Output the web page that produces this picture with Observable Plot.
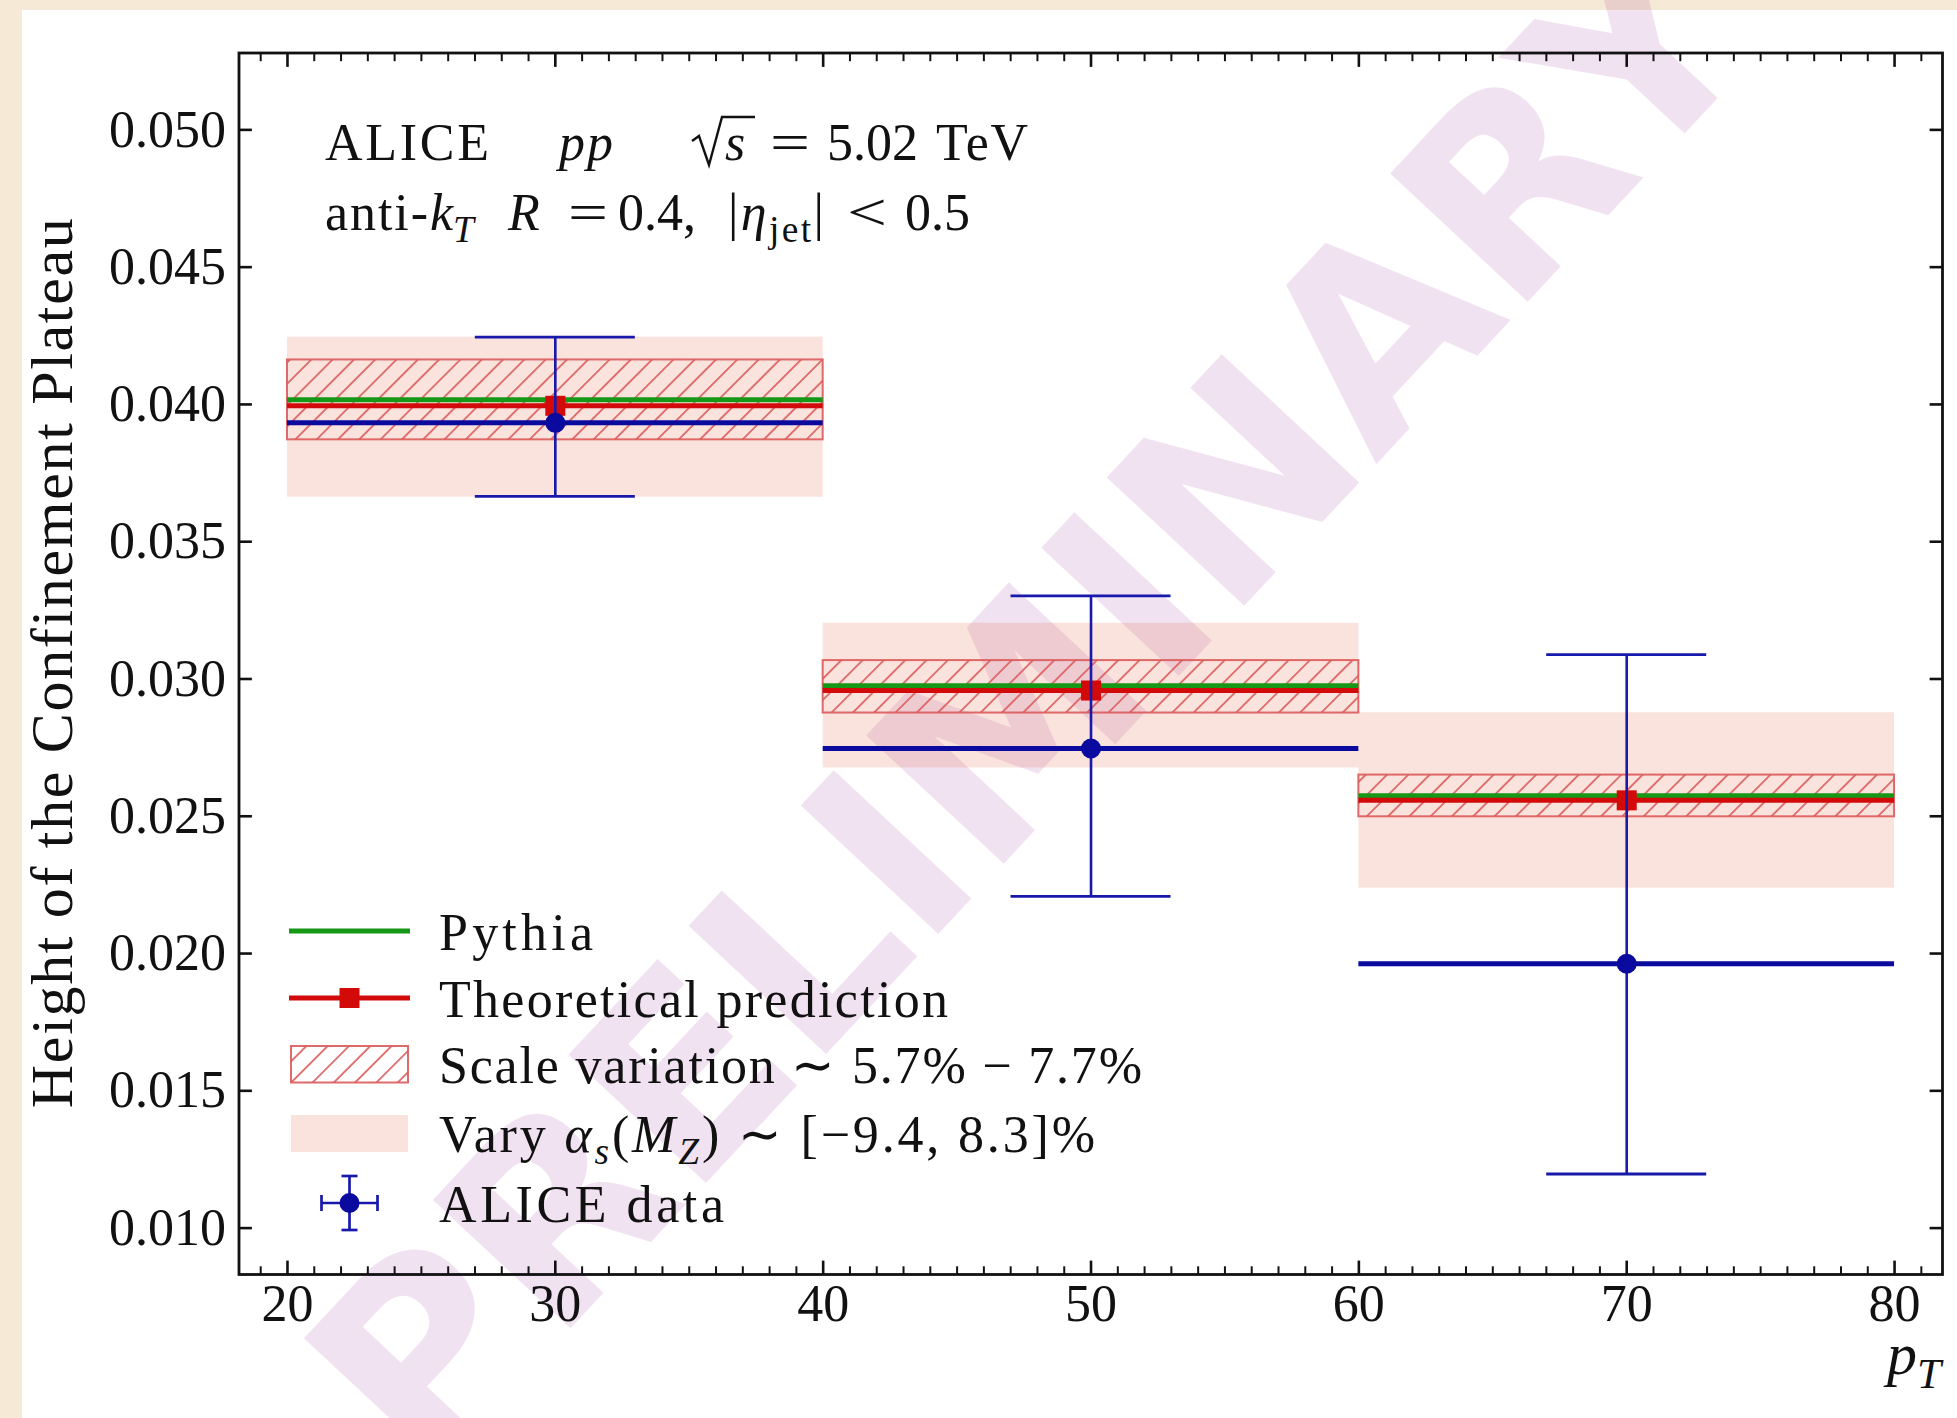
<!DOCTYPE html>
<html>
<head>
<meta charset="utf-8">
<script src="https://cdn.jsdelivr.net/npm/d3@7"></script>
<script src="https://cdn.jsdelivr.net/npm/@observablehq/plot@0.6"></script>
<style>
  html, body { margin:0; padding:0; width:1957px; height:1418px; overflow:hidden; background:#f6ead6; }
  #card { position:absolute; left:22px; top:10px; width:1935px; height:1408px; background:#ffffff; }
  #chart { position:absolute; left:0; top:0; width:1957px; height:1418px; }
  #chart svg { display:block; }
</style>
</head>
<body>
<div id="card"></div>
<div id="chart"></div>
<script>
// ---- data ----
const binLo     = [20, 40, 60];
const binHi     = [40, 60, 80];
const binCenter = [30, 50, 70];
const pythia    = [0.04017, 0.02975, 0.02575];
const theory    = [0.03995, 0.02958, 0.02558];
const scaleLo   = [0.03871, 0.02876, 0.02498];
const scaleHi   = [0.04162, 0.03067, 0.02650];
const alphaLo   = [0.03662, 0.02676, 0.02238];
const alphaHi   = [0.04245, 0.03203, 0.02877];
const alice     = [0.03933, 0.02747, 0.01963];
const aliceLo   = [0.03665, 0.02208, 0.01197];
const aliceHi   = [0.04245, 0.03303, 0.03089];
const xTicks    = [20, 30, 40, 50, 60, 70, 80];
const xMinor    = d3.range(19, 82).filter(v => v % 10 !== 0);
const yTicks    = [0.010, 0.015, 0.020, 0.025, 0.030, 0.035, 0.040, 0.045, 0.050];
const xDomain   = [18.19, 81.79];
const yDomain   = [0.00831, 0.0528];

const bins = binCenter.map((c, i) => ({
  lo: binLo[i], hi: binHi[i], c,
  pythia: pythia[i], theory: theory[i],
  sLo: scaleLo[i], sHi: scaleHi[i],
  aLo: alphaLo[i], aHi: alphaHi[i],
  d: alice[i], dLo: aliceLo[i], dHi: aliceHi[i]
}));

// ---- styles ----
const FONT = "'Liberation Serif', 'Times New Roman', serif";
const INK = "#111111";
const GREEN = "#169816", RED = "#d20a0a", BLUE = "#0a0a9e", ERR = "#1818aa";
const BAND = "rgb(230,110,85)", BANDOP = 0.2, HATCH = "#dc5a5a";

const chart = Plot.plot({
  width: 1957, height: 1418,
  marginLeft: 238.5, marginRight: 15, marginTop: 52.5, marginBottom: 144,
  style: {background: "transparent", fontFamily: FONT, fontSize: "52px", color: INK, overflow: "visible"},
  x: {domain: xDomain},
  y: {domain: yDomain},
  marks: [
    Plot.rect(bins, {x1: "lo", x2: "hi", y1: "aLo", y2: "aHi", fill: BAND, fillOpacity: BANDOP}),
    Plot.rect(bins, {x1: "lo", x2: "hi", y1: "sLo", y2: "sHi", fill: "url(#hatch)", stroke: HATCH, strokeWidth: 2, strokeOpacity: 0.9}),
    Plot.ruleY(bins, {x1: "lo", x2: "hi", y: "pythia", stroke: GREEN, strokeWidth: 5}),
    Plot.ruleY(bins, {x1: "lo", x2: "hi", y: "theory", stroke: RED, strokeWidth: 5}),
    Plot.dot(bins, {x: "c", y: "theory", symbol: "square", r: 11.3, fill: RED, stroke: null}),
    Plot.ruleX(bins, {x: "c", y1: "dLo", y2: "dHi", stroke: ERR, strokeWidth: 2.6}),
    Plot.ruleY(bins, {x1: "c", x2: "c", y: "dLo", insetLeft: -80, insetRight: -80, stroke: ERR, strokeWidth: 2.8}),
    Plot.ruleY(bins, {x1: "c", x2: "c", y: "dHi", insetLeft: -80, insetRight: -80, stroke: ERR, strokeWidth: 2.8}),
    Plot.ruleY(bins, {x1: "lo", x2: "hi", y: "d", stroke: BLUE, strokeWidth: 5}),
    Plot.dot(bins, {x: "c", y: "d", r: 10, fill: BLUE, stroke: null}),
    Plot.axisX(xMinor, {anchor: "bottom", tickSize: -7.7, strokeWidth: 2, tickFormat: () => "", label: null}),
    Plot.axisX(xMinor, {anchor: "top", tickSize: -7.7, strokeWidth: 2, tickFormat: () => "", label: null}),
    Plot.axisX(xTicks, {anchor: "bottom", tickSize: -13.4, tickPadding: 23.2, strokeWidth: 2.6, fontSize: 52, tickFormat: d => String(d), label: null}),
    Plot.axisX(xTicks, {anchor: "top", tickSize: -13.4, strokeWidth: 2.6, tickFormat: () => "", label: null}),
    Plot.axisY(yTicks, {anchor: "left", tickSize: -13.4, tickPadding: 26.5, strokeWidth: 2.6, fontSize: 52, tickFormat: d3.format(".3f"), label: null}),
    Plot.axisY(yTicks, {anchor: "right", tickSize: -13.4, strokeWidth: 2.6, tickFormat: () => "", label: null}),
    Plot.frame({stroke: INK, strokeWidth: 2.8})
  ]
});
document.getElementById("chart").appendChild(chart);

const S = d3.select(chart);

// hatch pattern
const defs = S.insert("defs", ":first-child");
const pat = defs.append("pattern").attr("id", "hatch")
  .attr("patternUnits", "userSpaceOnUse").attr("width", 15.06).attr("height", 15.06)
  .attr("patternTransform", "rotate(45)");
pat.append("line").attr("x1", 7.53).attr("x2", 7.53).attr("y1", -2).attr("y2", 17.06)
  .attr("stroke", HATCH).attr("stroke-width", 1.8).attr("stroke-opacity", 0.9);

// watermark behind the marks
S.insert("text", "g")
  .attr("transform", "translate(1030,705) rotate(-47)")
  .attr("text-anchor", "middle").attr("dominant-baseline", "central")
  .attr("font-family", "'DejaVu Sans', sans-serif").attr("font-weight", "bold").attr("font-size", 258)
  .attr("fill", "#800080").attr("fill-opacity", 0.115)
  .text("PRELIMINARY");

// rich text helper
function rich(parent, x, y, size, parts, len, anchor, adjust) {
  const t = parent.append("text").attr("x", x).attr("y", y)
    .attr("font-family", FONT).attr("font-size", size).attr("fill", INK)
    .attr("text-anchor", anchor || "start")
    .style("white-space", "pre");
  if (len) t.attr("textLength", len).attr("lengthAdjust", adjust || "spacing");
  let shift = 0;
  for (const p of parts) {
    const target = p.sub ? size * 0.24 : 0;
    const ts = t.append("tspan").text(p.t);
    if (target !== shift) ts.attr("dy", target - shift);
    shift = target;
    if (p.i) ts.attr("font-style", "italic");
    if (p.sub) ts.attr("font-size", size * 0.72);
  }
  return t;
}

const G = S.append("g");

// annotation line 1
rich(G, 325, 160, 52, [{t: "ALICE"}], 164);
rich(G, 559, 160, 52, [{t: "pp", i: true}], 54);
G.append("path").attr("d", "M692,141 L699,136 L709,165 L722,117 L755,117")
  .attr("fill", "none").attr("stroke", INK).attr("stroke-width", 2.4).attr("stroke-linejoin", "miter");
rich(G, 725, 160, 52, [{t: "s", i: true}]);
rich(G, 770, 160, 52, [{t: "="}], 40, null, "spacingAndGlyphs");
rich(G, 827, 160, 52, [{t: "5.02"}]);
rich(G, 936, 160, 52, [{t: "TeV"}], 92);
// annotation line 2
rich(G, 325, 230, 52, [{t: "anti-"}], 103);
rich(G, 430, 230, 52, [{t: "k", i: true}, {t: "T", i: true, sub: true}]);
rich(G, 508, 230, 52, [{t: "R", i: true}]);
rich(G, 568, 230, 52, [{t: "="}], 40, null, "spacingAndGlyphs");
rich(G, 618, 230, 52, [{t: "0.4,"}]);
rich(G, 728, 230, 52, [{t: "|"}, {t: "η", i: true}, {t: "jet", sub: true}, {t: "|"}], 96);
rich(G, 847, 230, 52, [{t: "<"}], 40, null, "spacingAndGlyphs");
rich(G, 905, 230, 52, [{t: "0.5"}]);

// axis titles
rich(G.append("g").attr("transform", "translate(72,663.2) rotate(-90)"), 0, 0, 60,
  [{t: "Height of the Confinement Plateau"}], 890, "middle");
rich(G, 1941, 1374, 60, [{t: "p", i: true}, {t: "T", i: true, sub: true}], null, "end");

// legend
const L = S.append("g");
L.append("line").attr("x1", 289).attr("x2", 410).attr("y1", 931).attr("y2", 931).attr("stroke", GREEN).attr("stroke-width", 5);
rich(L, 439, 950, 52, [{t: "Pythia"}], 154);

L.append("line").attr("x1", 289).attr("x2", 410).attr("y1", 998).attr("y2", 998).attr("stroke", RED).attr("stroke-width", 5);
L.append("rect").attr("x", 339.5).attr("y", 988).attr("width", 20).attr("height", 20).attr("fill", RED);
rich(L, 439, 1017, 52, [{t: "Theoretical prediction"}], 509);

L.append("rect").attr("x", 291).attr("y", 1046).attr("width", 117).attr("height", 36.5)
  .attr("fill", "url(#hatch)").attr("stroke", HATCH).attr("stroke-width", 2).attr("stroke-opacity", 0.9);
rich(L, 439, 1083, 52, [{t: "Scale variation ∼ 5.7% − 7.7%"}], 703);

L.append("rect").attr("x", 291).attr("y", 1115).attr("width", 117).attr("height", 37)
  .attr("fill", BAND).attr("fill-opacity", BANDOP);
rich(L, 439, 1152, 52, [{t: "Vary "}, {t: "α", i: true}, {t: "s", i: true, sub: true}, {t: "("}, {t: "M", i: true}, {t: "Z", i: true, sub: true}, {t: ") ∼ [−9.4, 8.3]%"}], 656);

const lx = 349.5, ly = 1203;
const eb = L.append("g").attr("stroke", ERR).attr("stroke-width", 2.7);
eb.append("line").attr("x1", lx).attr("x2", lx).attr("y1", ly - 27).attr("y2", ly + 27);
eb.append("line").attr("x1", lx - 28).attr("x2", lx + 28).attr("y1", ly).attr("y2", ly);
eb.append("line").attr("x1", lx - 8).attr("x2", lx + 8).attr("y1", ly - 27).attr("y2", ly - 27);
eb.append("line").attr("x1", lx - 8).attr("x2", lx + 8).attr("y1", ly + 27).attr("y2", ly + 27);
eb.append("line").attr("x1", lx - 28).attr("x2", lx - 28).attr("y1", ly - 8).attr("y2", ly + 8);
eb.append("line").attr("x1", lx + 28).attr("x2", lx + 28).attr("y1", ly - 8).attr("y2", ly + 8);
L.append("circle").attr("cx", lx).attr("cy", ly).attr("r", 10).attr("fill", BLUE);
rich(L, 439, 1222, 52, [{t: "ALICE data"}], 285);
</script>
</body>
</html>
